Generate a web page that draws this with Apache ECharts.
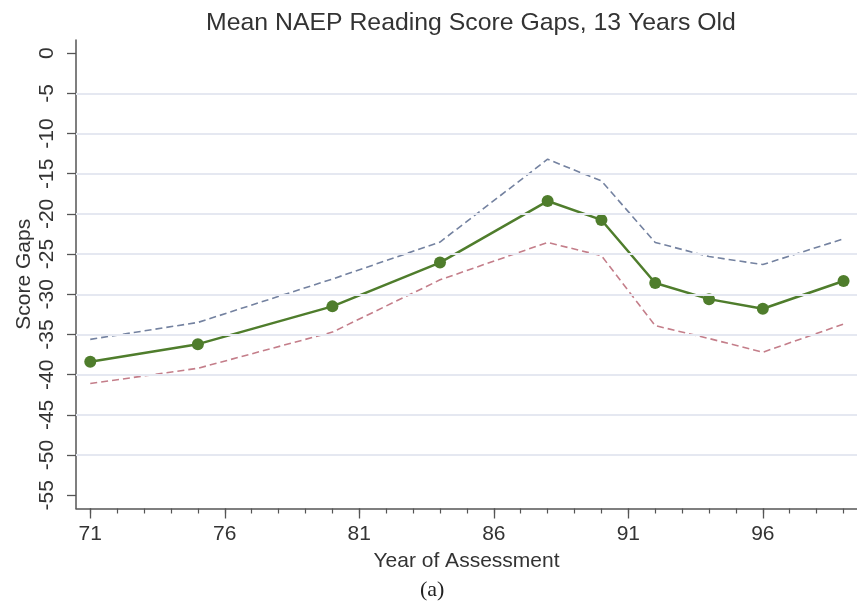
<!DOCTYPE html>
<html>
<head>
<meta charset="utf-8">
<style>
  html, body { margin: 0; padding: 0; background: #ffffff; }
  #chart { width: 857px; height: 609px; }
</style>
<script src="https://cdn.jsdelivr.net/npm/echarts@6/dist/echarts.min.js"></script>
</head>
<body>
<div id="chart"></div>
<script>
// Assessment years (19xx) and the mean reading score gap with its confidence band
const years = [71, 75, 80, 84, 88, 90, 92, 94, 96, 99];
const meanGap = [-38.4, -36.2, -31.5, -26.05, -18.4, -20.75, -28.6, -30.6, -31.8, -28.35];
const upperBound = [-35.6, -33.5, -28.1, -23.5, -13.2, -15.9, -23.55, -25.3, -26.3, -23.1];
const lowerBound = [-41.1, -39.2, -34.7, -28.2, -23.55, -25.2, -33.9, -35.5, -37.2, -33.7];

// Axis ticks and reference lines
const yTicks = [0, -5, -10, -15, -20, -25, -30, -35, -40, -45, -50, -55];
const yGridLines = [-5, -10, -15, -20, -25, -30, -35, -40, -45, -50];
const xMajorTicks = [71, 76, 81, 86, 91, 96];
const xMinorTicks = [71, 72, 73, 74, 75, 76, 77, 78, 79, 80, 81, 82, 83, 84, 85,
                     86, 87, 88, 89, 90, 91, 92, 93, 94, 95, 96, 97, 98, 99];

const FONT = '"Liberation Sans", Arial, Helvetica, sans-serif';
const AXIS_COLOR = '#555555';
const TEXT_COLOR = '#333333';

const pairs = (vals) => years.map((y, i) => [y, vals[i]]);

const chart = echarts.init(document.getElementById('chart'), null, { renderer: 'canvas' });

const xRange = { min: 70.47, max: 99.5 };

chart.setOption({
  animation: false,
  backgroundColor: '#ffffff',
  title: {
    text: 'Mean NAEP Reading Score Gaps, 13 Years Old',
    left: 466,
    top: 6,
    textAlign: 'center',
    textStyle: { fontFamily: FONT, fontSize: 24.8, fontWeight: 'normal', color: TEXT_COLOR }
  },
  grid: { left: 76, right: 0, top: 40, bottom: 100.5, containLabel: false },
  xAxis: [
    {
      type: 'value',
      min: xRange.min,
      max: xRange.max,
      position: 'bottom',
      name: 'Year of Assessment',
      nameLocation: 'middle',
      nameGap: 42,
      nameMoveOverlap: false,
      nameTextStyle: { fontFamily: FONT, fontSize: 21, color: TEXT_COLOR },
      axisLine: { show: true, onZero: false, lineStyle: { color: AXIS_COLOR, width: 1.5 } },
      axisTick: { show: true, customValues: xMajorTicks, length: 10, lineStyle: { color: AXIS_COLOR, width: 1.3 } },
      axisLabel: { customValues: xMajorTicks, fontFamily: FONT, fontSize: 21, color: TEXT_COLOR, margin: 15 },
      splitLine: { show: false }
    },
    {
      // yearly minor ticks along the bottom edge
      type: 'value',
      min: xRange.min,
      max: xRange.max,
      position: 'bottom',
      axisLine: { show: false, onZero: false },
      axisTick: { show: true, customValues: xMinorTicks, length: 5, lineStyle: { color: AXIS_COLOR, width: 1.2 } },
      axisLabel: { show: false },
      splitLine: { show: false }
    }
  ],
  yAxis: {
    type: 'value',
    min: -56.64,
    max: 1.63,
    name: 'Score Gaps',
    nameLocation: 'middle',
    nameGap: 41,
    nameMoveOverlap: false,
    nameTextStyle: { fontFamily: FONT, fontSize: 21, color: TEXT_COLOR },
    axisLine: { show: true, onZero: false, lineStyle: { color: AXIS_COLOR, width: 1.5 } },
    axisTick: { show: true, customValues: yTicks, length: 9, lineStyle: { color: AXIS_COLOR, width: 1.3 } },
    axisLabel: { customValues: yTicks, rotate: 90, fontFamily: FONT, fontSize: 21, color: TEXT_COLOR, margin: 18 },
    splitLine: { show: false }
  },
  series: [
    {
      // horizontal reference lines behind the data
      type: 'line',
      name: 'grid',
      data: [],
      z: 1,
      silent: true,
      markLine: {
        silent: true,
        symbol: 'none',
        label: { show: false },
        lineStyle: { color: '#e5e8f1', width: 2, type: 'solid' },
        data: yGridLines.map(v => ({ yAxis: v }))
      }
    },
    {
      type: 'line',
      name: 'Upper bound',
      data: pairs(upperBound),
      z: 2,
      symbol: 'none',
      lineStyle: { color: '#7482a0', width: 1.6, type: [7, 4] }
    },
    {
      type: 'line',
      name: 'Lower bound',
      data: pairs(lowerBound),
      z: 2,
      symbol: 'none',
      lineStyle: { color: '#c47e8a', width: 1.6, type: [7, 4] }
    },
    {
      type: 'line',
      name: 'Mean gap',
      data: pairs(meanGap),
      z: 3,
      symbol: 'circle',
      symbolSize: 12,
      itemStyle: { color: '#4f7d2c' },
      lineStyle: { color: '#4f7d2c', width: 2.5 }
    }
  ],
  graphic: [
    {
      type: 'text',
      left: 420,
      top: 579,
      style: {
        text: '(a)',
        fontFamily: '"Liberation Serif", "Times New Roman", serif',
        fontSize: 22,
        fill: '#222222'
      }
    }
  ]
});
</script>
</body>
</html>
